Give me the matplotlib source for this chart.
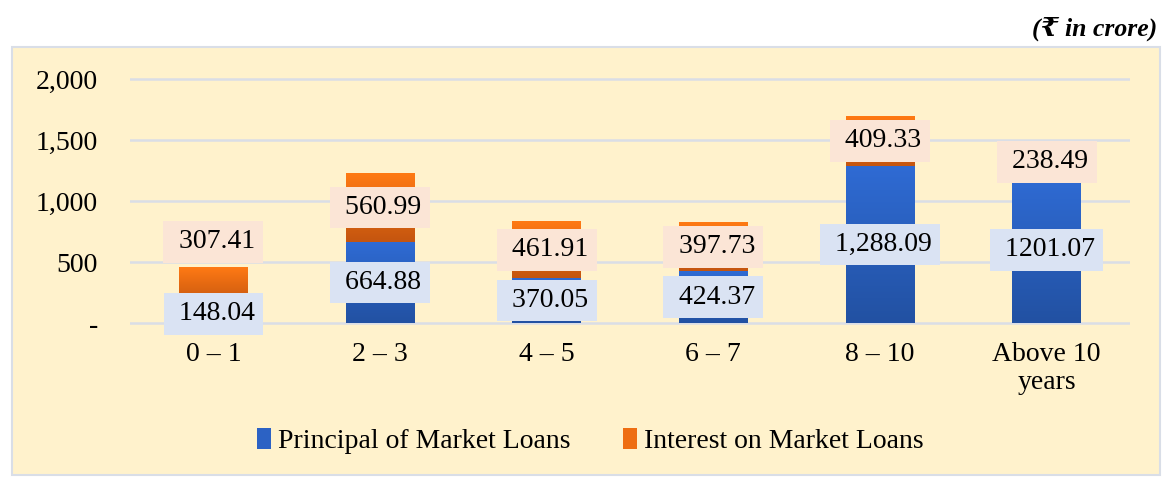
import numpy as np
import matplotlib
matplotlib.use("Agg")
import matplotlib.pyplot as plt
from matplotlib.colors import LinearSegmentedColormap
from matplotlib.patches import Rectangle
from matplotlib.ticker import FuncFormatter

categories = ["0 – 1", "2 – 3", "4 – 5", "6 – 7", "8 – 10", "Above 10\nyears"]
principal = [148.04, 664.88, 370.05, 424.37, 1288.09, 1201.07]
interest = [307.41, 560.99, 461.91, 397.73, 409.33, 238.49]
principal_labels = ["148.04", "664.88", "370.05", "424.37", "1,288.09", "1201.07"]
interest_labels = ["307.41", "560.99", "461.91", "397.73", "409.33", "238.49"]
yticks = [0, 500, 1000, 1500, 2000]

SERIF = ["Liberation Serif", "DejaVu Serif"]
plt.rcParams["font.family"] = SERIF
FS = 20

W, H = 1164, 478
fig = plt.figure(figsize=(W / 100, H / 100), dpi=100)
fig.patch.set_facecolor("white")

# outer panel
panel = Rectangle((12 / W, 3 / H), (1160 - 12) / W, (475 - 47) / H, transform=fig.transFigure,
                  facecolor="#FFF2CC", edgecolor="#D9DEE7", linewidth=1.5, zorder=-5)
fig.add_artist(panel)

ax = fig.add_axes([130 / W, 0.3115, 1000 / W, 0.536])
ax.set_zorder(1)
ax.set_facecolor("none")
x = np.arange(len(categories))
width = 0.414

blue_cmap = LinearSegmentedColormap.from_list("b", ["#2251A2", "#2F6BD4"])
orange_cmap = LinearSegmentedColormap.from_list("o", ["#C4550F", "#FF7A14"])

b1 = ax.bar(x, principal, width, color="#2C62C4", label="Principal of Market Loans", zorder=2)
b2 = ax.bar(x, interest, width, bottom=principal, color="#EE6E12", label="Interest on Market Loans", zorder=2)

grad = np.linspace(1, 0, 256).reshape(-1, 1)
for bars, cmap in ((b1, blue_cmap), (b2, orange_cmap)):
    for p in bars:
        bx, by, bw, bh = p.get_x(), p.get_y(), p.get_width(), p.get_height()
        ax.imshow(grad, extent=[bx, bx + bw, by, by + bh], aspect="auto", cmap=cmap,
                  zorder=2.1, interpolation="bilinear")

ax.set_xlim(-0.5, len(categories) - 0.5)
ax.set_ylim(-50, 2050)
ax.set_yticks(yticks)
ax.yaxis.set_major_formatter(FuncFormatter(lambda v, _: "-" if v == 0 else f"{int(v):,}"))
ax.set_xticks(x)
ax.set_xticklabels(categories, fontsize=FS, linespacing=1.2)
ax.tick_params(axis="y", length=0, pad=23, labelsize=FS)
ax.tick_params(axis="x", length=0, pad=9)
ax.grid(axis="y", color="#DADEE6", linewidth=1.8, zorder=1)
ax.set_axisbelow(True)
for s in ax.spines.values():
    s.set_visible(False)

# data labels
nudge_pts = [32, 0, 0, 0, 0, 0]
for i in range(len(categories)):
    ax.annotate(" " + principal_labels[i], (x[i], principal[i] / 2), ha="center", va="center",
                fontsize=FS, zorder=5,
                bbox=dict(boxstyle="square,pad=0.3", facecolor="#DAE3F3", edgecolor="none"))
    ax.annotate(" " + interest_labels[i], (x[i], principal[i] + interest[i] / 2),
                xytext=(0, nudge_pts[i]), textcoords="offset points",
                ha="center", va="center", fontsize=FS, zorder=5,
                bbox=dict(boxstyle="square,pad=0.3", facecolor="#FBE5D6", edgecolor="none"))

fig.legend(handles=[b1, b2], loc="center", bbox_to_anchor=(0.507, 0.077), ncol=2, frameon=False,
           fontsize=FS, handlelength=0.5, handleheight=0.75, handletextpad=0.25, columnspacing=1.9)

fig.text(0.994, 0.94, "(₹ in crore)", ha="right", va="center", fontsize=18.5, fontweight="bold",
         fontstyle="italic", family=SERIF)

fig.savefig("out.png", dpi=100)
